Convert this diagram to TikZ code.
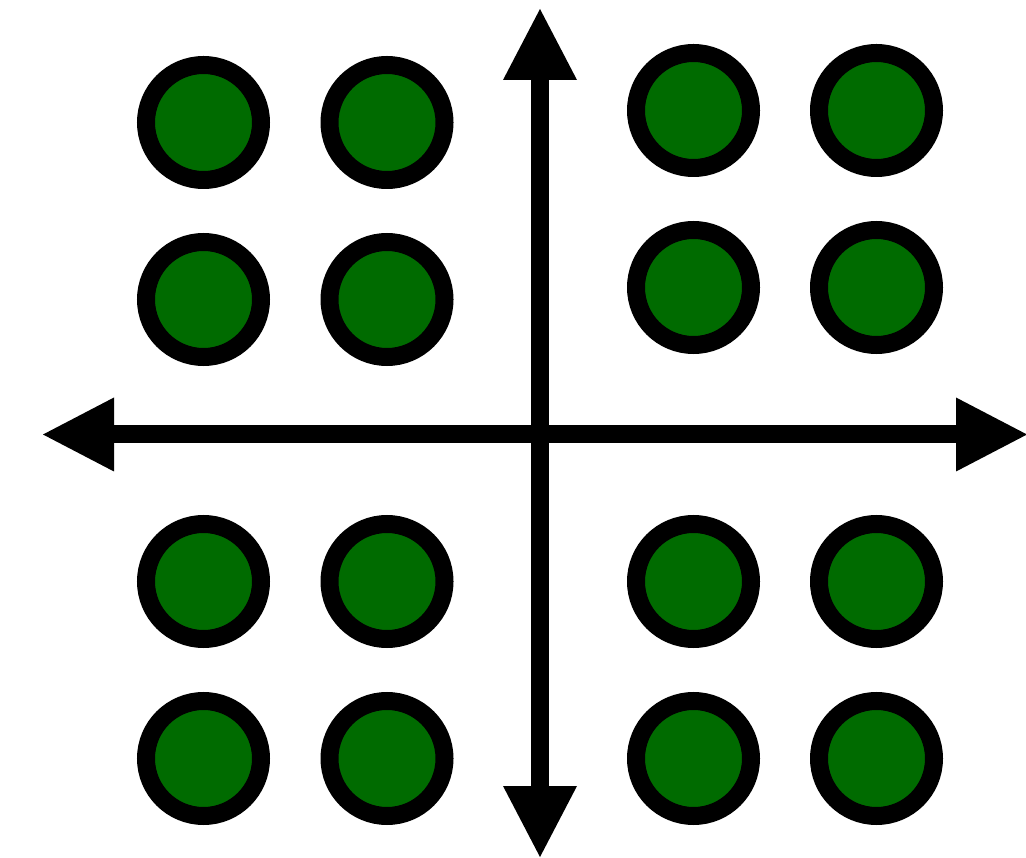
\documentclass[tikz,border=0pt]{standalone}
\usetikzlibrary{arrows.meta}
\definecolor{dotgreen}{RGB}{0,107,0}
\tikzset{
  dot/.style={circle, draw=black, fill=dotgreen, line width=18pt, minimum size=115pt, inner sep=0pt},
  axis/.style={line width=18pt, {Triangle[length=71pt,width=74pt,line width=0pt]}-{Triangle[length=71pt,width=74pt,line width=0pt]}}
}
\begin{document}
\begin{tikzpicture}[x=1pt,y=-1pt]
\useasboundingbox (0,0) rectangle (1026,858);
% axes
\coordinate (top) at (540,9);
\coordinate (bottom) at (540,857);
\coordinate (left) at (43,434.5);
\coordinate (right) at (1027,434.5);
\draw[axis] (top) -- (bottom);
\draw[axis] (left) -- (right);
% top-left quadrant
\node[dot] (tl1) at (203.5,122.5) {};
\node[dot] (tl2) at (387,122.5) {};
\node[dot] (tl3) at (203.5,299.5) {};
\node[dot] (tl4) at (387,299.5) {};
% top-right quadrant
\node[dot] (tr1) at (693.5,110.5) {};
\node[dot] (tr2) at (876.5,110.5) {};
\node[dot] (tr3) at (693.5,287.5) {};
\node[dot] (tr4) at (876.5,287.5) {};
% bottom-left quadrant
\node[dot] (bl1) at (203.5,581.5) {};
\node[dot] (bl2) at (387,581.5) {};
\node[dot] (bl3) at (203.5,758.5) {};
\node[dot] (bl4) at (387,758.5) {};
% bottom-right quadrant
\node[dot] (br1) at (693.5,581.5) {};
\node[dot] (br2) at (876.5,581.5) {};
\node[dot] (br3) at (693.5,758.5) {};
\node[dot] (br4) at (876.5,758.5) {};
\end{tikzpicture}
\end{document}
